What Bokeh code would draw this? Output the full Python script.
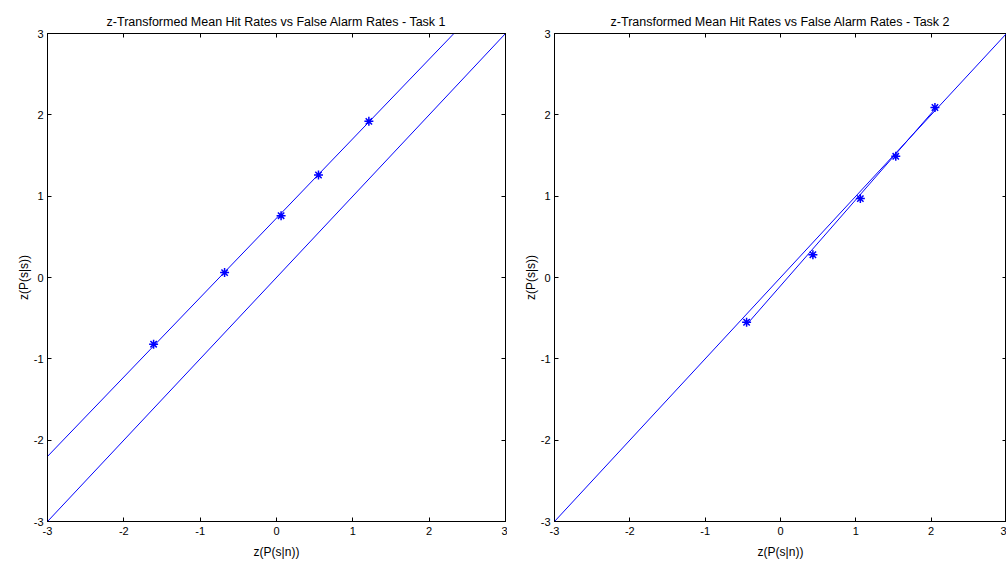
from bokeh.plotting import figure
from bokeh.layouts import row
from bokeh.models import LinearAxis, Range1d, FixedTicker
from bokeh.embed import file_html
from bokeh.resources import INLINE

# ---- data ----
ticks = [-3, -2, -1, 0, 1, 2, 3]
tick_labels = ["-3", "-2", "-1", "0", "1", "2", "3"]

# Task 1
t1_far = [-1.61, -0.68, 0.06, 0.55, 1.21]
t1_hit = [-0.82, 0.06, 0.76, 1.26, 1.92]
t1_fit_x = [-3.0, 3.0]
t1_fit_y = [-2.20, 3.66]

# Task 2
t2_far = [-0.45, 0.43, 1.06, 1.53, 2.05]
t2_hit = [-0.55, 0.28, 0.97, 1.49, 2.09]
t2_fit_x = [-0.45, 2.05]
t2_fit_y = [-0.58, 2.07]

# chance diagonal
diag_x = [-3.0, 3.0]
diag_y = [-3.0, 3.0]

titles = ["z-Transformed Mean Hit Rates vs False Alarm Rates - Task 1",
          "z-Transformed Mean Hit Rates vs False Alarm Rates - Task 2"]
xlabel = "z(P(s|n))"
ylabel = "z(P(s|s))"

FONT = "Liberation Sans"
BLUE = "#0000ff"


def make_fig(title, width, height, bl, br, bt, bb):
    p = figure(width=width, height=height, output_backend="svg", toolbar_location=None,
               x_range=Range1d(-3, 3), y_range=Range1d(-3, 3),
               min_border_left=bl, min_border_right=br, min_border_top=bt, min_border_bottom=bb)
    p.title.text = title
    p.title.align = "center"
    p.title.text_font = FONT
    p.title.text_font_size = "12.5px"
    p.title.text_font_style = "normal"
    p.title.text_color = "black"
    p.title.standoff = 9
    p.grid.visible = False
    p.outline_line_color = "black"
    p.outline_line_width = 1
    p.background_fill_color = "white"
    p.border_fill_color = "white"
    overrides = {t: lab for t, lab in zip(ticks, tick_labels)}
    for ax in [p.xaxis[0], p.yaxis[0]]:
        ax.ticker = FixedTicker(ticks=ticks)
        ax.major_label_overrides = overrides
        ax.major_tick_in = 4
        ax.major_tick_out = 0
        ax.minor_tick_line_color = None
        ax.axis_line_color = "black"
        ax.major_tick_line_color = "black"
        ax.major_label_text_font = FONT
        ax.major_label_text_font_size = "11px"
        ax.major_label_text_color = "black"
        ax.axis_label_text_font = FONT
        ax.axis_label_text_font_size = "12px"
        ax.axis_label_text_font_style = "normal"
        ax.axis_label_text_color = "black"
    p.xaxis[0].axis_label = xlabel
    p.yaxis[0].axis_label = ylabel
    p.xaxis[0].major_label_standoff = 5
    p.xaxis[0].axis_label_standoff = 7
    p.yaxis[0].major_label_standoff = 4
    p.yaxis[0].axis_label_standoff = 0
    for loc in ["above", "right"]:
        ax = LinearAxis(ticker=FixedTicker(ticks=ticks), major_tick_in=4, major_tick_out=0,
                        minor_tick_line_color=None, major_label_text_font_size="1px",
                        major_label_text_color=None, major_label_standoff=0,
                        axis_line_color="black")
        p.add_layout(ax, loc)
    return p


p1 = make_fig(titles[0], 507, 562, 47, 2, 33, 41)
p1.line(diag_x, diag_y, line_color=BLUE, line_width=1)
p1.line(t1_fit_x, t1_fit_y, line_color=BLUE, line_width=1)
p1.scatter(t1_far, t1_hit, marker="asterisk", size=9, line_color=BLUE, line_width=1.5)

p2 = make_fig(titles[1], 499, 562, 47, 0, 31, 38)
p2.xaxis[0].axis_label_standoff = 6
p2.line(diag_x, diag_y, line_color=BLUE, line_width=1)
p2.line(t2_fit_x, t2_fit_y, line_color=BLUE, line_width=1)
p2.scatter(t2_far, t2_hit, marker="asterisk", size=9, line_color=BLUE, line_width=1.5)

layout = row(p1, p2)
open("out.html", "w").write(file_html(layout, INLINE))
